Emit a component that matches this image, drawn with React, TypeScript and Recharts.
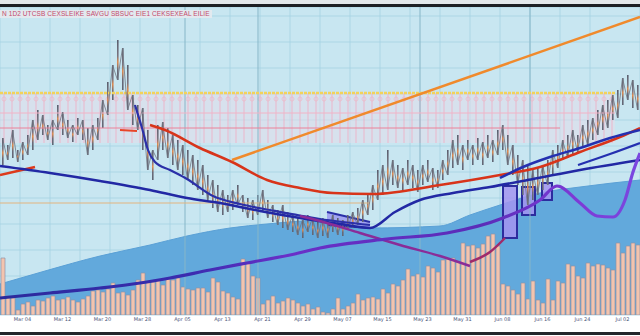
import React from 'react';
import { ComposedChart, Bar, Line, Area, XAxis, YAxis, CartesianGrid, ReferenceLine, ReferenceArea } from 'recharts';

// ---- category series (one entry per session) ----
const volume = [
  57,19,17,5,11,13,9,15,14,17,
  19,15,16,18,15,13,16,19,24,25,
  23,26,32,22,23,20,25,35,42,34,
  33,35,30,36,35,37,28,26,25,27,
  27,23,37,33,24,22,18,16,56,53,
  39,37,11,15,19,12,14,17,15,12,
  9,11,6,8,3,2,6,17,6,9,
  12,21,15,17,18,16,26,22,31,29,
  35,46,39,41,38,49,47,43,55,56,
  57,53,72,69,70,67,71,79,81,69,
  31,29,25,21,32,16,34,15,12,36,
  15,34,32,51,49,39,37,52,49,51,
  50,47,45,72,62,69,72,70,
];
const wickHigh = [
  177,170,185,165,173,180,195,205,200,190,
  195,210,203,195,190,197,195,187,190,197,
  215,233,250,275,267,250,220,210,207,185,
  165,190,193,187,180,175,170,165,160,155,
  150,140,135,130,125,120,125,130,120,117,
  115,120,125,115,110,105,110,103,100,97,
  95,100,97,93,97,95,100,97,95,100,
  103,107,115,120,130,145,150,165,155,150,
  147,155,150,145,150,155,147,145,155,165,
  175,180,170,175,170,177,173,180,175,185,
  190,180,170,160,155,150,145,147,150,155,
  165,170,175,180,185,180,190,195,197,205,
  210,215,220,225,237,240,235,230,
];
const wickLow = [
  150,155,157,153,155,160,165,175,180,175,
  170,185,180,177,173,180,175,160,165,175,
  187,200,215,235,225,205,190,185,165,145,
  135,155,165,157,150,145,140,135,130,125,
  120,115,107,103,100,103,105,110,103,97,
  95,100,103,97,93,90,87,85,83,80,
  77,83,80,77,79,77,83,80,79,85,
  87,90,93,100,105,115,120,125,130,127,
  125,130,127,123,130,133,125,127,135,140,
  147,150,145,155,150,155,150,157,153,160,
  165,150,140,130,120,110,115,120,125,130,
  140,147,155,157,160,163,167,170,175,180,
  185,187,195,197,210,215,207,205,
];
const tickIdx = [4,12,20,28,36,44,52,60,68,76,84,92,100,108,116,124];
const tickLabels = ['Mar 04','Mar 12','Mar 20','Mar 28','Apr 05','Apr 13','Apr 21','Apr 29','May 07','May 15','May 23','May 31','Jun 08','Jun 16','Jun 24','Jul 02'];

// ---- indicator lines (x on a 0..640 time scale) ----
const redLine = [
  {x:150,v:190},{x:165,v:185},{x:200,v:167},{x:232,v:153},{x:267,v:135},{x:300,v:127},{x:333,v:122},
  {x:373,v:121},{x:440,v:130},{x:500,v:140},{x:540,v:148},{x:580,v:163},{x:620,v:178},{x:640,v:187},
];
const redLeft = [{x:0,v:140},{x:35,v:148}];
const redShort = [{x:120,v:185},{x:137,v:184}];
const orangeTrend = [{x:232,v:155},{x:640,v:298}];
const navyA = [
  {x:0,v:149},{x:50,v:142},{x:100,v:134},{x:150,v:125},{x:187,v:117},{x:220,v:112},{x:260,v:104},
  {x:300,v:97},{x:340,v:91},{x:370,v:87},{x:395,v:103},{x:420,v:115},{x:453,v:122},{x:490,v:128},
  {x:533,v:136},{x:580,v:145},{x:640,v:155},
];
const navyB = [
  {x:135,v:210},{x:142,v:187},{x:148,v:165},{x:155,v:153},{x:170,v:145},{x:187,v:136},{x:213,v:119},
  {x:240,v:111},{x:270,v:105},{x:320,v:96},{x:370,v:90},
];
const navyD = [{x:500,v:137},{x:523,v:148},{x:550,v:158},{x:580,v:167},{x:610,v:177},{x:640,v:185}];
const navyE = [{x:578,v:150},{x:610,v:161},{x:640,v:172}];
const purpleLine = [
  {x:0,v:17},{x:50,v:22},{x:100,v:27},{x:140,v:32},{x:170,v:37},{x:210,v:45},{x:247,v:52},{x:290,v:60},
  {x:320,v:67},{x:387,v:76},{x:447,v:82},{x:503,v:97},{x:540,v:115},{x:557,v:129},{x:580,v:112},
  {x:597,v:99},{x:613,v:98},{x:625,v:115},{x:633,v:143},{x:640,v:162},
];
const magentaLine = [{x:300,v:99},{x:320,v:94},{x:360,v:82},{x:400,v:70},{x:440,v:59},{x:470,v:49}];
const maroonLine = [{x:470,v:53},{x:490,v:63},{x:505,v:77}];
const blueArea = [
  {x:0,v:31},{x:45,v:44},{x:100,v:59},{x:150,v:70},{x:187,v:79},{x:230,v:87},{x:267,v:91},{x:327,v:95},
  {x:370,v:87},{x:440,v:89},{x:470,v:100},{x:500,v:110},{x:540,v:122},{x:580,v:128},{x:640,v:135},
];
const wedge = [{x:327,r:[90,103]},{x:370,r:[87,93]}];
const boxes = [{x1:503,x2:517,lo:77,hi:129},{x1:522,x2:535,lo:100,hi:128},{x1:542,x2:552,lo:115,hi:132}];
const bandLevels = { top: 222, mid: 202, low: 187, bottom: 172, end: 615 };
const baseLevel = { v: 112, end: 370 };
const majorX = [185, 258, 420, 530];

// table for the category axes: candles swing between their low and high
const rows = volume.map((v, i) => ({
  i,
  vol: v,
  wick: [wickLow[i], wickHigh[i]],
  swing: i % 2 === 0 ? wickHigh[i] : wickLow[i],
}));
const gridX = Array.from({ length: 65 }, (_, k) => k * 10);
const gridY = Array.from({ length: 24 }, (_, k) => k * 13);
const labelOf = (i: number) => tickLabels[tickIdx.indexOf(i)] ?? '';

export default function App() {
  return (
    <div style={{ position: 'absolute', left: 0, top: 0, width: 640, height: 336, background: '#ffffff', overflow: 'hidden' }}>
      <ComposedChart width={640} height={336} data={rows} margin={{ top: 7, right: 0, bottom: 4, left: 0 }}>
        <defs>
          <pattern id="pinkPat" patternUnits="userSpaceOnUse" width="8" height="336">
            <rect x="0" y="0" width="8" height="336" fill="#e6dbea" fillOpacity="0.5" />
            <line x1="4" x2="4" y1="93" y2="143" stroke="#f1acc2" strokeWidth="0.8" />
            <circle cx="4" cy="99" r="2" fill="none" stroke="#efb6c6" strokeWidth="0.7" />
          </pattern>
          <linearGradient id="wickGrad" x1="0" y1="0" x2="0" y2="1">
            <stop offset="0" stopColor="#5a5e6e" />
            <stop offset="0.4" stopColor="#7a7480" />
            <stop offset="0.55" stopColor="#e08a4e" />
            <stop offset="0.75" stopColor="#6a6a78" />
            <stop offset="1" stopColor="#5f6574" />
          </linearGradient>
          <linearGradient id="purpleGrad" x1="0" y1="0" x2="640" y2="0" gradientUnits="userSpaceOnUse">
            <stop offset="0" stopColor="#2a2a9c" />
            <stop offset="0.3" stopColor="#3b2cb0" />
            <stop offset="0.45" stopColor="#6a30c8" />
            <stop offset="0.75" stopColor="#5a2cb8" />
            <stop offset="0.9" stopColor="#7d3ad6" />
            <stop offset="1" stopColor="#7a48e0" />
          </linearGradient>
        </defs>
        <CartesianGrid xAxisId="num" yAxisId="y" fill="#c8e6f1" stroke="#a4d2e3" strokeWidth={0.8} />
        <XAxis xAxisId="num" type="number" dataKey="x" domain={[0, 640]} ticks={gridX} hide allowDataOverflow />
        <XAxis xAxisId="cat" dataKey="i" height={17} axisLine={false} tickLine={false} ticks={tickIdx}
          tickFormatter={labelOf} interval={0} tickMargin={0}
          tick={{ fontSize: 5, fill: '#4b5478', fontFamily: 'DejaVu Sans', dy: -4 }} />
        <XAxis xAxisId="cat2" dataKey="i" hide />
        <YAxis yAxisId="y" domain={[0, 308]} ticks={gridY} hide allowDataOverflow />

        <ReferenceArea xAxisId="num" yAxisId="y" x1={0} x2={bandLevels.end} y1={bandLevels.bottom} y2={bandLevels.top}
          fill="url(#pinkPat)" fillOpacity={1} stroke="none" />
        {majorX.map((x) => (
          <ReferenceLine key={x} xAxisId="num" yAxisId="y" x={x} stroke="#86b6c8" strokeWidth={1} />
        ))}
        <ReferenceLine xAxisId="num" yAxisId="y" segment={[{ x: 0, y: bandLevels.mid }, { x: bandLevels.end, y: bandLevels.mid }]} stroke="#f2b3c6" strokeWidth={1} />
        <ReferenceLine xAxisId="num" yAxisId="y" segment={[{ x: 0, y: bandLevels.low }, { x: 560, y: bandLevels.low }]} stroke="#ea8299" strokeWidth={1} />
        <ReferenceLine xAxisId="num" yAxisId="y" segment={[{ x: 0, y: bandLevels.top }, { x: bandLevels.end, y: bandLevels.top }]} stroke="#f3d25a" strokeWidth={2.5} strokeDasharray="3 1" />

        <Area xAxisId="num" yAxisId="y" data={blueArea} dataKey="v" type="monotone" fill="#62a9dc" fillOpacity={1} stroke="#5aa0d6" strokeWidth={1} isAnimationActive={false} />
        <ReferenceLine xAxisId="num" yAxisId="y" segment={[{ x: 0, y: baseLevel.v }, { x: baseLevel.end, y: baseLevel.v }]} stroke="#e3b47e" strokeWidth={1} />

        <Bar xAxisId="cat" yAxisId="y" dataKey="vol" barSize={4} fill="#f3c4ae" stroke="#8f94a8" strokeWidth={0.7} isAnimationActive={false} />
        <Line xAxisId="cat2" yAxisId="y" dataKey="swing" type="linear" stroke="#70737f" strokeWidth={0.8} dot={false} isAnimationActive={false} />
        <Bar xAxisId="cat2" yAxisId="y" dataKey="wick" barSize={1.6} fill="url(#wickGrad)" isAnimationActive={false} />

        <Area xAxisId="num" yAxisId="y" data={wedge} dataKey="r" type="linear" fill="#9c9cf0" fillOpacity={0.9} stroke="#2a2fa8" strokeWidth={2} isAnimationActive={false} />
        {boxes.map((b, k) => (
          <ReferenceArea key={k} xAxisId="num" yAxisId="y" x1={b.x1} x2={b.x2} y1={b.lo} y2={b.hi}
            fill="#a394f0" fillOpacity={0.85} stroke="#2c2c9e" strokeWidth={2} />
        ))}

        <Line xAxisId="num" yAxisId="y" data={redLeft} dataKey="v" type="linear" stroke="#dd3a1c" strokeWidth={2.5} dot={false} isAnimationActive={false} />
        <Line xAxisId="num" yAxisId="y" data={redShort} dataKey="v" type="linear" stroke="#e8452a" strokeWidth={2} dot={false} isAnimationActive={false} />
        <Line xAxisId="num" yAxisId="y" data={redLine} dataKey="v" type="monotone" stroke="#d8341a" strokeWidth={2.5} dot={false} isAnimationActive={false} />
        <Line xAxisId="num" yAxisId="y" data={orangeTrend} dataKey="v" type="linear" stroke="#f08a2c" strokeWidth={2.5} dot={false} isAnimationActive={false} />
        <Line xAxisId="num" yAxisId="y" data={navyB} dataKey="v" type="monotone" stroke="#2b30a8" strokeWidth={2.2} dot={false} isAnimationActive={false} />
        <Line xAxisId="num" yAxisId="y" data={navyA} dataKey="v" type="monotone" stroke="#2228a4" strokeWidth={2.5} dot={false} isAnimationActive={false} />
        <Line xAxisId="num" yAxisId="y" data={navyD} dataKey="v" type="monotone" stroke="#2430b0" strokeWidth={2.5} dot={false} isAnimationActive={false} />
        <Line xAxisId="num" yAxisId="y" data={navyE} dataKey="v" type="monotone" stroke="#2430b0" strokeWidth={2.2} dot={false} isAnimationActive={false} />
        <Line xAxisId="num" yAxisId="y" data={magentaLine} dataKey="v" type="monotone" stroke="#8a2c98" strokeWidth={2.5} dot={false} isAnimationActive={false} />
        <Line xAxisId="num" yAxisId="y" data={maroonLine} dataKey="v" type="monotone" stroke="#a02a6a" strokeWidth={2.5} dot={false} isAnimationActive={false} />
        <Line xAxisId="num" yAxisId="y" data={purpleLine} dataKey="v" type="monotone" stroke="url(#purpleGrad)" strokeWidth={3.2} dot={false} isAnimationActive={false} />
      </ComposedChart>
      <div style={{ position: 'absolute', left: 0, top: 0, width: 640, height: 4, background: '#e3e8eb' }} />
      <div style={{ position: 'absolute', left: 0, top: 4, width: 640, height: 3, background: '#1d2025' }} />
      <div style={{ position: 'absolute', left: 0, top: 10, height: 8, padding: '0 2px', background: '#e2e9ef', color: '#c44a6c', fontFamily: 'Liberation Sans', fontSize: 6.5, lineHeight: '8px', whiteSpace: 'nowrap', letterSpacing: 0.1 }}>
        N 1D2 UTCSB CEXSLEIKE SAVGU SBSUC EIE1 CEKSEXEAL EILIE
      </div>
      <div style={{ position: 'absolute', left: 0, top: 332, width: 640, height: 3, background: '#23262b' }} />
    </div>
  );
}
